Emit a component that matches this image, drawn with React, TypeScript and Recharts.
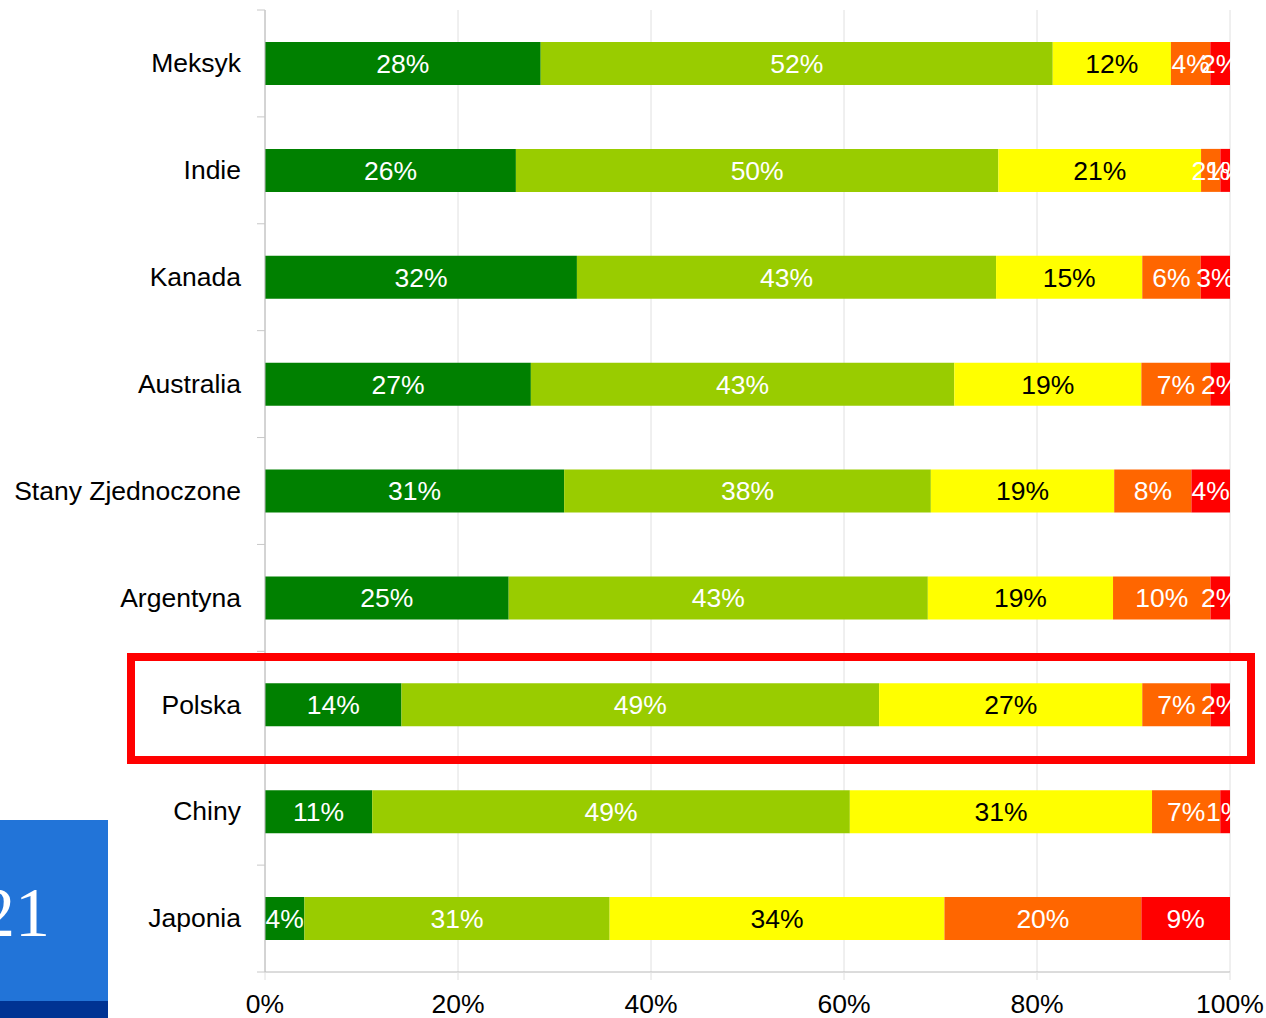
import { BarChart, Bar, XAxis, YAxis, CartesianGrid, LabelList } from 'recharts';

const countries = ['Meksyk', 'Indie', 'Kanada', 'Australia', 'Stany Zjednoczone', 'Argentyna', 'Polska', 'Chiny', 'Japonia'];
const level1 = [28, 26, 32, 27, 31, 25, 14, 11, 4];
const level2 = [52, 50, 43, 43, 38, 43, 49, 49, 31];
const level3 = [12, 21, 15, 19, 19, 19, 27, 31, 34];
const level4 = [4, 2, 6, 7, 8, 10, 7, 7, 20];
const level5 = [2, 1, 3, 2, 4, 2, 2, 1, 9];
const xTicks = [0, 0.2, 0.4, 0.6, 0.8, 1];

const series = [
  { key: 'l1', color: '#008000', text: '#ffffff' },
  { key: 'l2', color: '#99cc00', text: '#ffffff' },
  { key: 'l3', color: '#ffff00', text: '#000000' },
  { key: 'l4', color: '#ff6600', text: '#ffffff' },
  { key: 'l5', color: '#ff0000', text: '#ffffff' },
];

const data = countries.map((c, i) => ({
  country: c,
  l1: level1[i],
  l2: level2[i],
  l3: level3[i],
  l4: level4[i],
  l5: level5[i],
}));

const W = 1266;
const H = 1018;
const TOP = 10;
const BOTTOM = 46;
const BAND = (H - TOP - BOTTOM) / countries.length;
const FS = 26.5;

// category label + tick mark at band boundaries (like the original)
function CountryTick(props: any) {
  const { x, y, payload, index } = props;
  const lx1 = x + 16;
  const lx2 = x + 24;
  return (
    <g>
      <line x1={lx1} x2={lx2} y1={y - BAND / 2} y2={y - BAND / 2} stroke="#c8c8c8" />
      {index === countries.length - 1 && (
        <line x1={lx1} x2={lx2} y1={y + BAND / 2} y2={y + BAND / 2} stroke="#c8c8c8" />
      )}
      <text x={x} y={y} dy="0.33em" textAnchor="end" fontSize={FS} fill="#000">
        {payload.value}
      </text>
    </g>
  );
}

export default function App() {
  return (
    <div style={{ position: 'absolute', left: 0, top: 0, width: W, height: H, background: '#fff', fontFamily: '"Liberation Sans", Arial, sans-serif', overflow: 'hidden' }}>
      <div style={{ position: 'absolute', left: 0, top: 820, width: 108, height: 198, background: '#2274d8' }}>
        <div style={{ position: 'absolute', left: 0, bottom: 0, width: 108, height: 17, background: '#003393' }} />
        <div style={{ position: 'absolute', right: 58, top: 58, fontFamily: '"Liberation Serif", serif', fontSize: 70, lineHeight: 1, color: '#fff' }}>21</div>
      </div>
      <BarChart
        width={W}
        height={H}
        data={data}
        layout="vertical"
        stackOffset="expand"
        margin={{ top: TOP, right: 36, bottom: 0, left: 0 }}
        style={{ position: 'absolute', left: 0, top: 0 }}
      >
        <CartesianGrid horizontal={false} stroke="#e0e0e0" />
        <XAxis
          type="number"
          domain={[0, 1]}
          ticks={xTicks}
          allowDataOverflow
          height={BOTTOM}
          tickSize={8}
          tickMargin={14}
          tickLine={{ stroke: '#e0e0e0' }}
          axisLine={{ stroke: '#b8b8b8' }}
          tick={{ fontSize: FS, fill: '#000' }}
          tickFormatter={(v: number) => `${Math.round(v * 100)}%`}
        />
        <YAxis
          type="category"
          dataKey="country"
          width={265}
          tickSize={8}
          tickMargin={16}
          tickLine={false}
          axisLine={{ stroke: '#b8b8b8' }}
          tick={<CountryTick />}
          interval={0}
        />
        {series.map(s => (
          <Bar key={s.key} dataKey={s.key} stackId="a" fill={s.color} barSize={43} isAnimationActive={false}>
            <LabelList
              dataKey={s.key}
              position="center"
              fill={s.text}
              fontSize={FS}
              formatter={(v: any) => `${v}%`}
            />
          </Bar>
        ))}
      </BarChart>
      <div style={{ position: 'absolute', left: 127, top: 653, width: 1128, height: 111, border: '8px solid #ff0000', boxSizing: 'border-box', pointerEvents: 'none' }} />
    </div>
  );
}
